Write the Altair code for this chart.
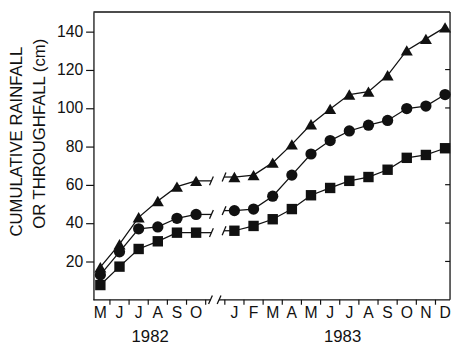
import altair as alt
import pandas as pd

# ---------------- data ----------------
months_1982 = ["M", "J", "J", "A", "S", "O"]
months_1983 = ["J", "F", "M", "A", "M", "J", "J", "A", "S", "O", "N", "D"]
pos_1982 = [0, 1, 2, 3, 4, 5]
pos_1983 = [7, 8, 9, 10, 11, 12, 13, 14, 15, 16, 17, 18]

tri_1982 = [17, 29, 43, 51.5, 59, 62]
cir_1982 = [13, 25, 37, 38, 42.5, 44.5]
sq_1982 = [7.7, 17.3, 26.5, 30.5, 35, 35]

tri_1983 = [64, 65, 71.5, 81, 91.5, 99.5, 107, 108.5, 117, 130, 136, 142]
cir_1983 = [46.5, 47.3, 54, 65, 76, 83, 88, 91, 93.5, 99.7, 101, 107]
sq_1983 = [36, 38.5, 42, 47.3, 54.5, 58.3, 62, 64, 67.8, 74, 75.5, 79]

series_names = ["tri", "cir", "sq"]
y_ticks = [20, 40, 60, 80, 100, 120, 140]
x_tick_pos = [0.5, 1.5, 2.5, 3.5, 4.5, 5.5,
              6.5, 7.5, 8.5, 9.5, 10.5, 11.5, 12.5, 13.5, 14.5, 15.5, 16.5, 17.5]
year_labels = ["1982", "1983"]
year_pos = [2.6, 12.65]
title_1 = "CUMULATIVE RAINFALL"
title_2 = "OR THROUGHFALL  (cm)"

# ---------------- layout / style ----------------
W, H = 363, 293
XMIN, XMAX = -0.36, 18.26
FONT = "Liberation Sans"
INK = "#111111"
BREAK_L, BREAK_R = 5.8, 6.46       # data-line break ends
AXB_L, AXB_R = 5.75, 6.2            # axis break ends

rows = []
for name, v82, v83 in zip(series_names, [tri_1982, cir_1982, sq_1982], [tri_1983, cir_1983, sq_1983]):
    for p, v in zip(pos_1982, v82):
        rows.append({"series": name, "seg": name + "82", "pos": p, "value": v})
    for p, v in zip(pos_1983, v83):
        rows.append({"series": name, "seg": name + "83", "pos": p, "value": v})
df = pd.DataFrame(rows)

stub_rows = []
slash_rows = []
for name, v82, v83 in zip(series_names, [tri_1982, cir_1982, sq_1982], [tri_1983, cir_1983, sq_1983]):
    stub_rows.append({"seg": name + "a", "pos": pos_1982[-1], "value": v82[-1]})
    stub_rows.append({"seg": name + "a", "pos": BREAK_L, "value": v82[-1]})
    stub_rows.append({"seg": name + "b", "pos": BREAK_R, "value": v83[0]})
    stub_rows.append({"seg": name + "b", "pos": pos_1983[0], "value": v83[0]})
    for xc, yc in [(BREAK_L, v82[-1]), (BREAK_R, v83[0])]:
        slash_rows.append({"x": xc - 0.1, "x2": xc + 0.1, "y": yc - 2.3, "y2": yc + 2.3})
for xc in [AXB_L, AXB_R]:
    slash_rows.append({"x": xc - 0.1, "x2": xc + 0.1, "y": -2.2, "y2": 2.2})
stubs = pd.DataFrame(stub_rows)
slashes = pd.DataFrame(slash_rows)

axis_line = pd.DataFrame({"x": [XMIN, AXB_R], "x2": [AXB_L, XMAX], "y": [0, 0]})
month_df = pd.DataFrame({"pos": pos_1982 + pos_1983, "label": months_1982 + months_1983})
year_df = pd.DataFrame({"pos": year_pos, "label": year_labels})
title_df = pd.DataFrame({"t1": [title_1], "t2": [title_2]})
ytick_df = pd.DataFrame({"value": y_ticks})
xtick_df = pd.DataFrame({"pos": x_tick_pos})

xs = alt.Scale(domain=[XMIN, XMAX], nice=False, zero=False)
ys = alt.Scale(domain=[0, 150], nice=False, zero=False)

lines = alt.Chart(df).mark_line(color=INK, strokeWidth=1.3).encode(
    x=alt.X("pos:Q", scale=xs, axis=None),
    y=alt.Y("value:Q", scale=ys, axis=alt.Axis(values=y_ticks, tickSize=8, labelPadding=3,
                                                labelFontSize=16, labelFont=FONT, labelColor=INK,
                                                domain=True, domainColor=INK, domainWidth=1.3,
                                                tickColor=INK, tickWidth=1.2, grid=False,
                                                title=None, orient="left")),
    detail="seg:N",
)

points = alt.Chart(df).mark_point(filled=True, opacity=1, color=INK).encode(
    x=alt.X("pos:Q", scale=xs, axis=None),
    y=alt.Y("value:Q", scale=ys, axis=None),
    shape=alt.Shape("series:N", scale=alt.Scale(domain=series_names,
                                                range=["triangle-up", "circle", "square"]), legend=None),
    size=alt.Size("series:N", scale=alt.Scale(domain=series_names, range=[150, 112, 92]), legend=None),
)

stub_lines = alt.Chart(stubs).mark_line(color=INK, strokeWidth=1.3).encode(
    x=alt.X("pos:Q", scale=xs, axis=None),
    y=alt.Y("value:Q", scale=ys, axis=None),
    detail="seg:N",
)

slash_marks = alt.Chart(slashes).mark_rule(color=INK, strokeWidth=1.3).encode(
    x=alt.X("x:Q", scale=xs, axis=None), x2="x2:Q",
    y=alt.Y("y:Q", scale=ys, axis=None), y2="y2:Q",
)

axis_rules = alt.Chart(axis_line).mark_rule(color=INK, strokeWidth=1.3).encode(
    x=alt.X("x:Q", scale=xs, axis=None), x2="x2:Q",
    y=alt.Y("y:Q", scale=ys, axis=None),
)

x_ticks = alt.Chart(xtick_df).mark_rule(color=INK, strokeWidth=1.2).encode(
    x=alt.X("pos:Q", scale=xs, axis=None), y=alt.value(H), y2=alt.value(H + 5))

right_ticks = alt.Chart(ytick_df).mark_rule(color=INK, strokeWidth=1.2).encode(
    y=alt.Y("value:Q", scale=ys, axis=None), x=alt.value(W - 5), x2=alt.value(W))

frame_top = alt.Chart(title_df).mark_rule(color=INK, strokeWidth=1.3).encode(
    x=alt.value(0), x2=alt.value(W), y=alt.value(0))
frame_right = alt.Chart(title_df).mark_rule(color=INK, strokeWidth=1.3).encode(
    x=alt.value(W), y=alt.value(0), y2=alt.value(H))

month_text = alt.Chart(month_df).mark_text(font=FONT, fontSize=16, color=INK,
                                           baseline="alphabetic", align="center").encode(
    x=alt.X("pos:Q", scale=xs, axis=None), y=alt.value(H + 19), text="label:N")

year_text = alt.Chart(year_df).mark_text(font=FONT, fontSize=17, color=INK,
                                         baseline="alphabetic", align="center").encode(
    x=alt.X("pos:Q", scale=xs, axis=None), y=alt.value(H + 43), text="label:N")

t1 = alt.Chart(title_df).mark_text(font=FONT, fontSize=17, color=INK, angle=270,
                                   baseline="alphabetic", align="center").encode(
    x=alt.value(-73), y=alt.value(132), text="t1:N")
t2 = alt.Chart(title_df).mark_text(font=FONT, fontSize=17, color=INK, angle=270,
                                   baseline="alphabetic", align="center").encode(
    x=alt.value(-49), y=alt.value(124), text="t2:N")

chart = alt.layer(
    lines, stub_lines, slash_marks, axis_rules, x_ticks, right_ticks, points,
    frame_top, frame_right, month_text, year_text, t1, t2,
).resolve_axis(y="independent").properties(
    width=W, height=H,
    autosize=alt.AutoSizeParams(type="none"),
    padding={"left": 87, "top": 1, "right": 2, "bottom": 48},
).configure_view(stroke=None)

chart.save("out.html", embed_options={"renderer": "svg", "actions": False})
